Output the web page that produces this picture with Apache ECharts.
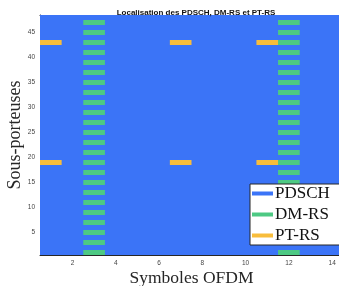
<!DOCTYPE html>
<html><head><meta charset="utf-8">
<script src="https://cdn.jsdelivr.net/npm/echarts@6/dist/echarts.min.js"></script>
<style>html,body{margin:0;padding:0;background:#fff}#c{width:339px;height:286px}</style>
</head><body><div id="c"></div>
<script>
// Data
const symbolRange = [1, 14];          // OFDM symbols
const subcarrierRange = [1, 48];      // sub-carriers
const dmrsSymbols = [3, 12];
const dmrsSubcarriers = [1,3,5,7,9,11,13,15,17,19,21,23,25,27,29,31,33,35,37,39,41,43,45,47];
const ptrsSymbols = [1, 7, 11];
const ptrsSubcarriers = [19, 43];
const xTicks = [2,4,6,8,10,12,14];
const yTicks = [5,10,15,20,25,30,35,40,45];

const C_PDSCH = '#3b74f7', C_DMRS = '#4dc983', C_PTRS = '#f8bd3c';

const pdschData = [[symbolRange[0], subcarrierRange[0], symbolRange[1], subcarrierRange[1]]];
const dmrsData = [];
dmrsSymbols.forEach(s => dmrsSubcarriers.forEach(k => dmrsData.push([s, k, s, k])));
const ptrsData = [];
ptrsSymbols.forEach(s => ptrsSubcarriers.forEach(k => ptrsData.push([s, k, s, k])));

function renderCell(color) {
  return function (params, api) {
    const p0 = api.coord([api.value(0) - 0.5, api.value(1) - 0.5]);
    const p1 = api.coord([api.value(2) + 0.5, api.value(3) + 0.5]);
    return {
      type: 'rect',
      shape: { x: Math.min(p0[0], p1[0]), y: Math.min(p0[1], p1[1]),
               width: Math.abs(p1[0] - p0[0]), height: Math.abs(p1[1] - p0[1]) },
      style: { fill: color }
    };
  };
}

const axisCommon = {
  axisLine: { show: true, onZero: false, lineStyle: { color: '#262626', width: 1 } },
  splitLine: { show: false },
};
const tickStyle = { show: true, inside: true, length: 4, lineStyle: { color: '#262626' } };
const labelStyle = { fontFamily: 'Liberation Sans', fontSize: 6.5, color: '#444' };

const chart = echarts.init(document.getElementById('c'), null, { renderer: 'canvas' });
chart.setOption({
  animation: false,
  title: {
    text: 'Localisation des PDSCH, DM-RS et PT-RS',
    left: 191, top: 4, textAlign: 'center',
    textStyle: { fontFamily: 'Liberation Sans', fontSize: 8, fontWeight: 'bold', color: '#111' }
  },
  grid: { left: 40, right: -4, top: 15, bottom: 31, containLabel: false, outerBoundsMode: 'none' },
  xAxis: [{
    type: 'value', min: 0.5, max: 14.5, position: 'bottom',
    ...axisCommon,
    axisTick: { ...tickStyle, customValues: xTicks },
    axisLabel: { ...labelStyle, margin: 5, customValues: xTicks },
    name: 'Symboles OFDM', nameLocation: 'middle', nameGap: 14, nameMoveOverlap: false,
    nameTextStyle: { fontFamily: 'Liberation Serif', fontSize: 17.5, color: '#262626' }
  }, {
    type: 'value', min: 0.5, max: 14.5, position: 'top',
    ...axisCommon,
    axisTick: { ...tickStyle, customValues: xTicks },
    axisLabel: { show: false, customValues: xTicks }
  }],
  yAxis: [{
    type: 'value', min: 0.5, max: 48.5,
    ...axisCommon,
    axisTick: { ...tickStyle, customValues: yTicks },
    axisLabel: { ...labelStyle, margin: 5, customValues: yTicks },
    name: 'Sous-porteuses', nameLocation: 'middle', nameGap: 16, nameMoveOverlap: false,
    nameTextStyle: { fontFamily: 'Liberation Serif', fontSize: 18, color: '#262626' }
  }],
  legend: {
    orient: 'vertical', left: 250, top: 184,
    backgroundColor: '#fff', borderColor: '#262626', borderWidth: 1, borderRadius: 0,
    padding: [1, 14, 1, 2], itemGap: 4,
    itemWidth: 21, itemHeight: 4, icon: 'rect',
    textStyle: { fontFamily: 'Liberation Serif', fontSize: 17, lineHeight: 17, color: '#111', padding: [0, 0, 0, -3] },
    data: ['PDSCH', 'DM-RS', 'PT-RS']
  },
  series: [
    { name: 'PDSCH', type: 'custom', renderItem: renderCell(C_PDSCH), data: pdschData,
      itemStyle: { color: C_PDSCH }, encode: { x: [0, 2], y: [1, 3] }, clip: true, z: 1 },
    { name: 'DM-RS', type: 'custom', renderItem: renderCell(C_DMRS), data: dmrsData,
      itemStyle: { color: C_DMRS }, encode: { x: [0, 2], y: [1, 3] }, clip: true, z: 2 },
    { name: 'PT-RS', type: 'custom', renderItem: renderCell(C_PTRS), data: ptrsData,
      itemStyle: { color: C_PTRS }, encode: { x: [0, 2], y: [1, 3] }, clip: true, z: 3 }
  ]
});
</script></body></html>
